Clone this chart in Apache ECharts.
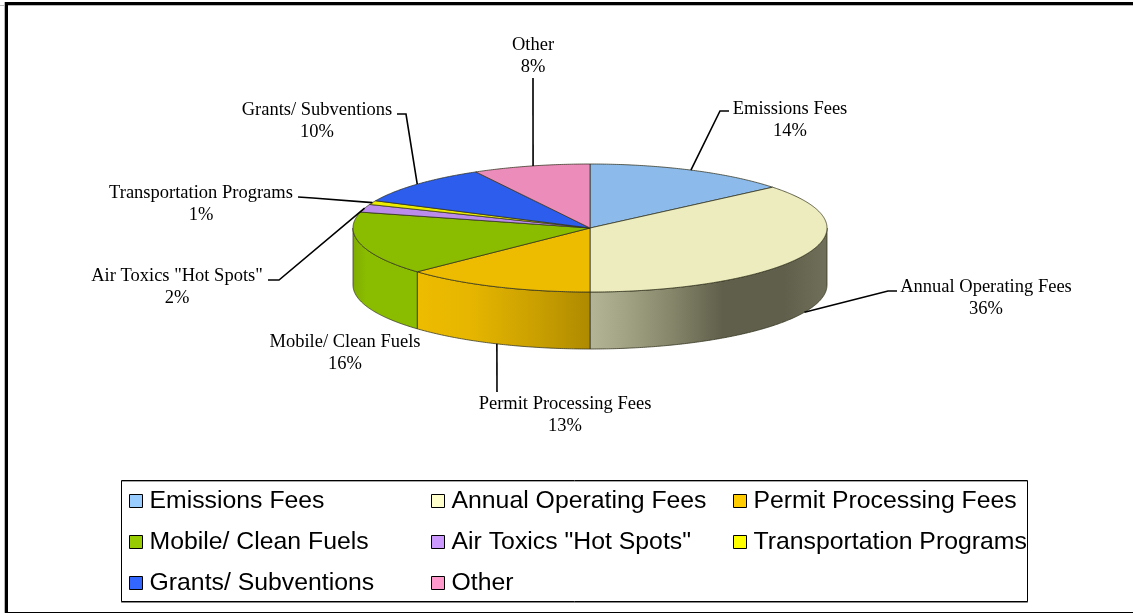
<!DOCTYPE html>
<html>
<head>
<meta charset="utf-8">
<style>html,body{margin:0;padding:0;background:#fff}#c{width:1133px;height:613px}</style>
<script src="https://cdn.jsdelivr.net/npm/echarts@6/dist/echarts.min.js"></script>
</head>
<body>
<div id="c"></div>
<script>
// ---- data ----
const categories = ['Emissions Fees','Annual Operating Fees','Permit Processing Fees','Mobile/ Clean Fuels','Air Toxics "Hot Spots"','Transportation Programs','Grants/ Subventions','Other'];
const shares = [14,36,13,16,2,1,10,8];
const legendColors = ['#99CCFF','#FFFFCC','#FFCC00','#99CC00','#CC99FF','#FFFF00','#3366FF','#FF99CC'];
const topColors = ['#8CBBEB','#ECECBE','#EDBC00','#8ABC00','#BC8CEC','#ECEC00','#2C5DED','#EC8CBB'];
const legendColumns = [[0,3,6],[1,4,7],[2,5]];
// ---- layout (not data) ----
const legendX = [129,431,733];
const pie = {cx:590, cy:228, rx:237, ry:64, depth:57};
// label centre, then leader-line waypoints from the slice edge towards the label
const labelAt = [
  {x:790,y:120,via:[[720,111],[729,111]]},
  {x:986,y:298,wall:true,via:[[888,291],[897,291]]},
  {x:565,y:415,wall:true,dx:1,via:[[497,392]]},
  {x:345,y:353,none:true},
  {x:177,y:287,via:[[279,280],[268,280]]},
  {x:201,y:204,via:[[313,198],[298,197]]},
  {x:317,y:121,via:[[406,114],[397,114]]},
  {x:533,y:56,dx:2,via:[[533,78]]}
];
const wallStops = {
  1:[[0,'#B4B496'],[0.15,'#A2A284'],[0.35,'#85856A'],[0.56,'#5F5F4B'],[0.82,'#5F5F4B'],[1,'#70705A']],
  2:[[0,'#EDBC00'],[0.3,'#E6B600'],[0.7,'#C99F00'],[1,'#AE8A00']],
  3:[[0,'#7FAD00'],[0.2,'#8ABC00'],[1,'#8ABC00']]
};
const edge = 'rgba(50,50,30,0.75)';

const pt = (deg, dy) => {
  const a = deg * Math.PI / 180;
  return [pie.cx + pie.rx * Math.sin(a), pie.cy - pie.ry * Math.cos(a) + (dy || 0)];
};
const arc = (a0, a1, dy) => {
  const n = Math.max(2, Math.ceil(Math.abs(a1 - a0) / 0.5));
  const out = [];
  for (let i = 0; i <= n; i++) out.push(pt(a0 + (a1 - a0) * i / n, dy));
  return out;
};
const total = shares.reduce((s, v) => s + v, 0);
const startShare = i => shares.slice(0, i).reduce((s, v) => s + v, 0);

function renderSlice(index) {
  return function (params, api) {
    const value = api.value(0);
    const a0 = startShare(index) / total * 360;
    const a1 = a0 + value / total * 360;
    const children = [];
    // front wall: the visible part lies between 90 and 270 degrees
    const w0 = Math.max(a0, 90), w1 = Math.min(a1, 270);
    if (w1 > w0) {
      const top = arc(w0, w1, 0), bottom = arc(w1, w0, pie.depth);
      const xs = top.map(p => p[0]);
      const stops = wallStops[index].map(s => ({offset: s[0], color: s[1]}));
      children.push({
        type: 'polygon',
        shape: {points: top.concat(bottom)},
        style: {
          fill: new echarts.graphic.LinearGradient(Math.min(...xs), 0, Math.max(...xs), 0, stops, true),
          stroke: edge, lineWidth: 1
        }
      });
    }
    // top face
    children.push({
      type: 'polygon',
      shape: {points: [[pie.cx, pie.cy]].concat(arc(a0, a1, 0))},
      style: {fill: topColors[index], stroke: edge, lineWidth: 1}
    });
    const lab = labelAt[index];
    const mid = (a0 + a1) / 2;
    if (!lab.none) {
      const from = pt(mid, lab.wall ? pie.depth : 0);
      from[0] += lab.dx || 0;
      children.push({
        type: 'polyline',
        shape: {points: [from].concat(lab.via)},
        style: {stroke: '#000', lineWidth: 1.6, fill: null}
      });
    }
    children.push({
      type: 'text',
      z2: 10,
      style: {
        x: lab.x, y: lab.y,
        text: categories[index] + '\n' + value + '%',
        font: '18.5px "Liberation Serif", serif',
        lineHeight: 22.5,
        fill: '#000', align: 'center', verticalAlign: 'middle'
      }
    });
    return {type: 'group', children};
  };
}

const chart = echarts.init(document.getElementById('c'), null, {renderer: 'canvas'});
chart.setOption({
  animation: false,
  backgroundColor: '#fff',
  tooltip: {show: false},
  graphic: [
    {type: 'rect', silent: true, z: -1, shape: {x: 0, y: 5, width: 1133, height: 1}, style: {fill: '#B8B8B8'}},
    {type: 'rect', silent: true, z: -1, shape: {x: 5, y: 2, width: 1128, height: 3}, style: {fill: '#000'}},
    {type: 'rect', silent: true, z: -1, shape: {x: 4, y: 2, width: 1, height: 611}, style: {fill: '#B8B8B8'}},
    {type: 'rect', silent: true, z: -1, shape: {x: 5, y: 2, width: 3, height: 611}, style: {fill: '#000'}},
    {type: 'rect', silent: true, z: -1, shape: {x: 5, y: 612, width: 1128, height: 1}, style: {fill: '#000'}},
    {type: 'rect', silent: true, z: -1, shape: {x: 121.5, y: 480.5, width: 906, height: 121}, style: {fill: '#fff', stroke: '#000', lineWidth: 1, shadowColor: 'rgba(0,0,0,0.35)', shadowOffsetX: 0, shadowOffsetY: 1}}
  ],
  legend: legendColumns.map((col, k) => ({
    orient: 'vertical',
    left: legendX[k],
    top: 487.5,
    padding: 0,
    selectedMode: false,
    icon: 'rect',
    itemWidth: 13,
    itemHeight: 13,
    itemGap: 14,
    itemStyle: {borderColor: '#000', borderWidth: 1},
    textStyle: {fontFamily: '"Liberation Sans", Arial, sans-serif', fontSize: 24.8, color: '#000', lineHeight: 27, padding: [0,0,0,2]},
    data: col.map(i => categories[i])
  })),
  series: categories.map((name, i) => ({
    type: 'custom',
    name,
    coordinateSystem: 'none',
    silent: true,
    itemStyle: {color: legendColors[i]},
    renderItem: renderSlice(i),
    data: [[shares[i]]]
  }))
});
</script>
</body>
</html>
